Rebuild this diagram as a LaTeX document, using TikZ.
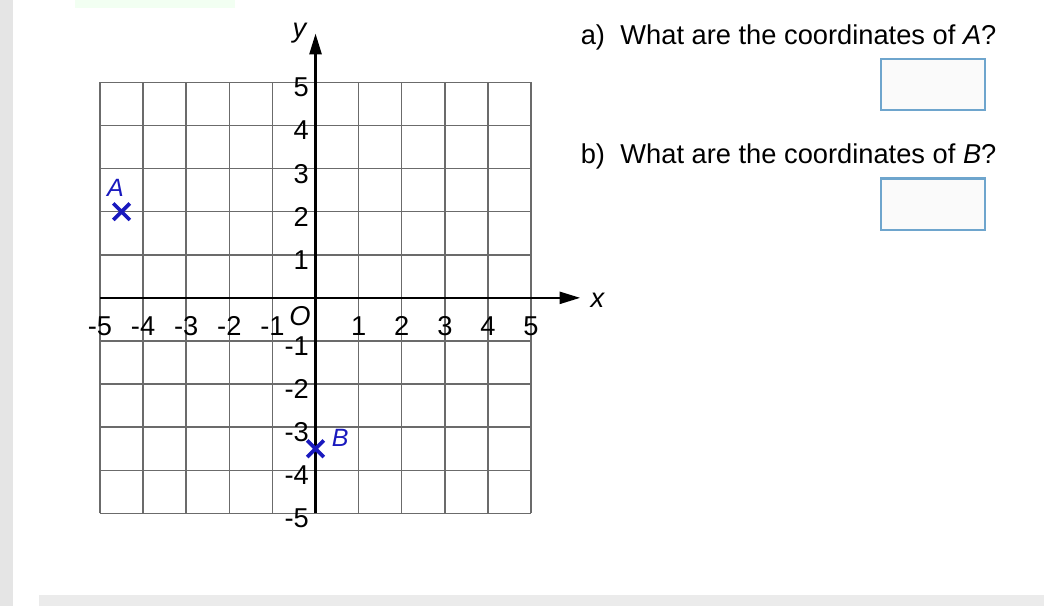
\documentclass[tikz,border=0pt]{standalone}
\usepackage{fontspec}
\setmainfont{Liberation Sans}
\usetikzlibrary{arrows.meta, positioning, shapes.misc}
\definecolor{ptblue}{RGB}{25,25,190}
\definecolor{boxblue}{RGB}{110,165,205}

\begin{document}
\begin{tikzpicture}[thick, font=\fontsize{18}{21}\selectfont]
    \tikzstyle{gridline}=[draw=black!58, line width=1pt]
    \tikzstyle{axis}=[draw=black, line width=1.5pt, -{Triangle[length=0.48cm,width=0.28cm]}]
    \tikzstyle{tick}=[inner sep=0pt]
    \tikzstyle{point}=[cross out, draw=ptblue, line width=2.4pt, minimum size=0.3cm, inner sep=0pt]
    \tikzstyle{ptlabel}=[text=ptblue, font=\fontsize{16.5}{19}\selectfont\itshape, inner sep=0pt]
    \tikzstyle{question}=[anchor=base west, inner sep=0pt]
    \tikzstyle{answer}=[draw=boxblue, line width=1.6pt, fill=black!2, minimum width=2.41cm, minimum height=1.19cm, inner sep=0pt]

    \useasboundingbox (-7.32,-7.15) rectangle (16.90,6.91);
    \fill[black!10] (-7.32,-7.15) rectangle (-7.02,6.91);
    \fill[black!8] (-6.42,-7.15) rectangle (16.90,-6.89);
    \fill[green!5] (-5.58,6.91) rectangle (-1.87,6.72);

	\draw[gridline] (-5,-5) grid (5,5);

	\coordinate (xstart) at (-5,0);
	\coordinate (xend) at (6.14,0);
	\coordinate (ystart) at (0,-5);
	\coordinate (yend) at (0,6.13);
	\draw[axis] (xstart) -- (xend);
	\draw[axis] (ystart) -- (yend);

	\node [tick] (xname) at (6.55,-0.05) {\textit{x}};
	\node [tick] (yname) at (-0.36,6.13) {\textit{y}};
	\node [tick] (orig) at (-0.36,-0.42) {\textit{O}};

	\foreach \x in {-5,...,-1,1,2,...,5}
		\node [tick] (xlab\x) at (\x,-0.65) {\x};
	\foreach \y in {-5,...,-1,1,2,...,5}
		\node [tick, anchor=east] (ylab\y) at (-0.14,\y-0.12) {\y};

	\node [point] (ptA) at (-4.5,2) {};
	\node [ptlabel] (lblA) at (-4.64,2.55) {A};
	\node [point] (ptB) at (0,-3.5) {};
	\node [ptlabel] (lblB) at (0.57,-3.25) {B};

	\node [question] (qa) at (6.14,5.87) {a)};
	\node [question] (qatext) at (7.06,5.87) {What are the coordinates of \textit{A}?};
	\node [answer] (boxa) at (14.33,4.95) {};
	\node [question] (qb) at (6.14,3.11) {b)};
	\node [question] (qbtext) at (7.06,3.11) {What are the coordinates of \textit{B}?};
	\node [answer] (boxb) at (14.33,2.17) {};
\end{tikzpicture}
\end{document}
